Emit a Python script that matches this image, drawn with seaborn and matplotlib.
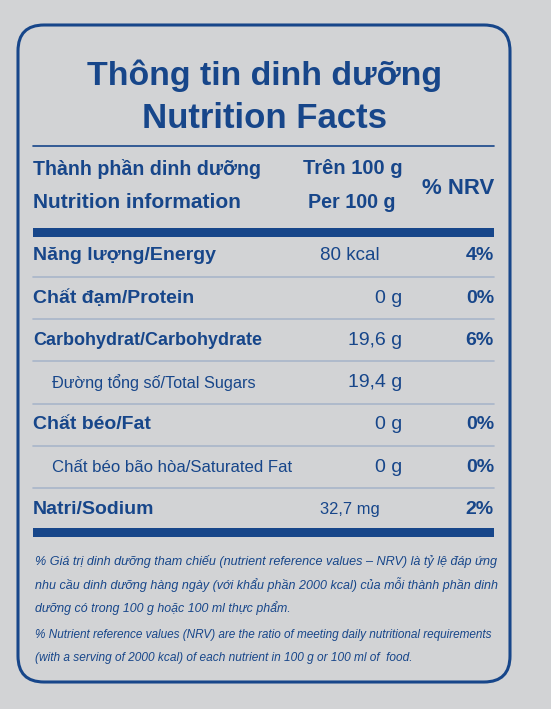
import matplotlib.pyplot as plt
import seaborn as sns
from matplotlib.patches import FancyBboxPatch, Rectangle

sns.set_theme(style="white")
plt.rcParams["font.family"] = ["Liberation Sans", "DejaVu Sans"]

BLUE = "#17468a"
BG = "#d2d3d5"
RULE = "#a9b5c9"

title_lines = ["Thông tin dinh dưỡng", "Nutrition Facts"]
header_left = ["Thành phần dinh dưỡng", "Nutrition information"]
header_mid = ["Trên 100 g", "Per 100 g"]
header_right = "% NRV"

nutrients = [
    "Năng lượng/Energy",
    "Chất đạm/Protein",
    "Carbohydrat/Carbohydrate",
    "Đường tổng số/Total Sugars",
    "Chất béo/Fat",
    "Chất béo bão hòa/Saturated Fat",
    "Natri/Sodium",
]
amounts = ["80 kcal", "0 g", "19,6 g", "19,4 g", "0 g", "0 g", "32,7 mg"]
nrv = ["4%", "0%", "6%", "", "0%", "0%", "2%"]
sub_item = [False, False, False, True, False, True, False]

footnotes = [
    "% Giá trị dinh dưỡng tham chiếu (nutrient reference values – NRV) là tỷ lệ đáp ứng",
    "nhu cầu dinh dưỡng hàng ngày (với khẩu phần 2000 kcal) của mỗi thành phần dinh",
    "dưỡng có trong 100 g hoặc 100 ml thực phẩm.",
    "% Nutrient reference values (NRV) are the ratio of meeting daily nutritional requirements",
    "(with a serving of 2000 kcal) of each nutrient in 100 g or 100 ml of  food.",
]

fig = plt.figure(figsize=(5.51, 7.09), dpi=100, facecolor=BG)
ax = fig.add_axes([0, 0, 1, 1])
ax.set_xlim(0, 551)
ax.set_ylim(709, 0)
ax.axis("off")
renderer = fig.canvas.get_renderer()


def fit_text(x, y, s, max_w, size, **kw):
    """Draw text, shrinking the font until it is no wider than max_w pixels."""
    t = ax.text(x, y, s, va="center", color=BLUE, fontsize=size, **kw)
    w = t.get_window_extent(renderer).width
    if w > max_w:
        t.set_fontsize(size * max_w / w)
    return t


# rounded frame
ax.add_patch(FancyBboxPatch((18, 25), 492, 657, boxstyle="round,pad=0,rounding_size=26",
                            fc="none", ec=BLUE, lw=2.2))

L, R = 33, 494
MID_R = 402

fit_text(265, 76, title_lines[0], 356, 32, ha="center", fontweight="bold")
fit_text(264, 118, title_lines[1], 246, 32, ha="center", fontweight="bold")

ax.plot([L, R], [146, 146], color=BLUE, lw=1.2)
fit_text(L, 169, header_left[0], 228, 17, ha="left", fontweight="bold")
fit_text(L, 203, header_left[1], 208, 17, ha="left", fontweight="bold")
fit_text(353, 169, header_mid[0], 100, 17, ha="center", fontweight="bold")
fit_text(352, 203, header_mid[1], 88, 17, ha="center", fontweight="bold")
fit_text(R, 188, header_right, 72, 19, ha="right", fontweight="bold")

ax.add_patch(Rectangle((L, 228), R - L, 9, color=BLUE, lw=0))

row_y0, row_h = 256, 42.2
for i, name in enumerate(nutrients):
    y = row_y0 + i * row_h
    if sub_item[i]:
        fit_text(L + 19, y, name, 240 if i == 5 else 206, 14, ha="left")
    else:
        fit_text(L, y, name, 230, 14, ha="left", fontweight="bold")
    right = 380 if amounts[i].endswith(("kcal", "mg")) else MID_R
    fit_text(right, y, amounts[i], 60, 14, ha="right")
    fit_text(R, y, nrv[i], 40, 14, ha="right", fontweight="bold")
    if i < len(nutrients) - 1:
        ax.plot([L, R], [y + 21, y + 21], color=RULE, lw=1.2)

ax.add_patch(Rectangle((L, 528), R - L, 9, color=BLUE, lw=0))

foot_y = [561, 585, 608, 635, 658]
foot_w = [460, 460, 255, 460, 378]
for y, t, w in zip(foot_y, footnotes, foot_w):
    fit_text(L + 2, y, t, w, 12, ha="left", style="italic")

fig.savefig("out.png", dpi=100, facecolor=BG)
